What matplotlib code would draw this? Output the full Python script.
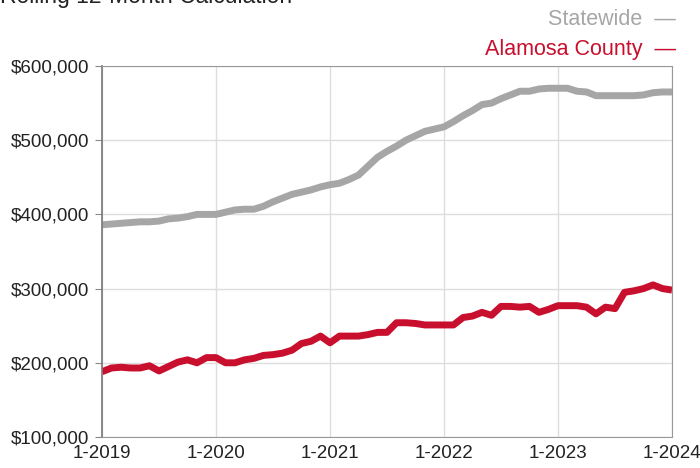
import matplotlib.pyplot as plt
import numpy as np

plt.rcParams['font.family'] = ['Liberation Sans', 'DejaVu Sans']

# monthly median price, Jan 2019 .. Jan 2024 (thousands of $)
statewide = [386, 387, 388, 389, 390, 390, 391, 394, 395, 397, 400, 400,
             400, 403, 406, 407, 407, 411, 417, 422, 427, 430, 433, 437,
             440, 442, 447, 453, 465, 477, 485, 492, 500, 506, 512, 515,
             518, 525, 533, 540, 548, 550, 556, 561, 566, 566, 569, 570,
             570, 570, 566, 565, 560, 560, 560, 560, 560, 561, 564, 565,
             565]
alamosa = [188, 193, 194, 193, 193, 196, 189, 195, 201, 204, 200, 207,
           207, 200, 200, 204, 206, 210, 211, 213, 217, 226, 229, 236,
           227, 236, 236, 236, 238, 241, 241, 254, 254, 253, 251, 251,
           251, 251, 261, 263, 268, 264, 276, 276, 275, 276, 268, 272,
           277, 277, 277, 275, 266, 275, 273, 295, 297, 300, 305, 300,
           298]
tick_labels = ["1-2019", "1-2020", "1-2021", "1-2022", "1-2023", "1-2024"]

GRAY = "#a6a6a6"
RED = "#c8102e"

months = np.arange(len(statewide))
fig = plt.figure(figsize=(7, 4.68), dpi=100)
ax = fig.add_axes([102 / 700, 1 - 437 / 468, 570 / 700, 371 / 468])

ax.plot(months, np.array(statewide) * 1000, color=GRAY, lw=5,
        solid_capstyle='butt', solid_joinstyle='round')
ax.plot(months, np.array(alamosa) * 1000, color=RED, lw=5,
        solid_capstyle='butt', solid_joinstyle='round')

ax.set_xlim(0, 60)
ax.set_ylim(100000, 600000)
ax.set_xticks(np.arange(0, 61, 12))
ax.set_xticklabels(tick_labels)
ax.set_yticks(np.arange(100000, 600001, 100000))
ax.set_yticklabels([f"${v:,.0f}" for v in np.arange(100000, 600001, 100000)])
ax.tick_params(axis='both', labelsize=13.5, colors='#888888', labelcolor='#222222')
ax.tick_params(axis='y', length=5, pad=4)
ax.tick_params(axis='x', length=0, pad=6)
ax.grid(color='#dddddd', lw=1)
ax.set_axisbelow(True)
for side in ['top', 'right', 'bottom']:
    ax.spines[side].set_color('#999999')
ax.spines['left'].set_color('#777777')
ax.spines['left'].set_linewidth(1.2)

fig.text(0.0, 1 - 3 / 468, "Rolling 12-Month Calculation", fontsize=16.5,
         ha='left', va='baseline', color='#222222')
fig.text(676 / 700, 1 - 25 / 468, "Statewide  \u2014", fontsize=15.5,
         ha='right', va='baseline', color=GRAY)
fig.text(676 / 700, 1 - 55 / 468, "Alamosa County  \u2014", fontsize=15.5,
         ha='right', va='baseline', color=RED)

plt.savefig("out.png")
plt.close()
